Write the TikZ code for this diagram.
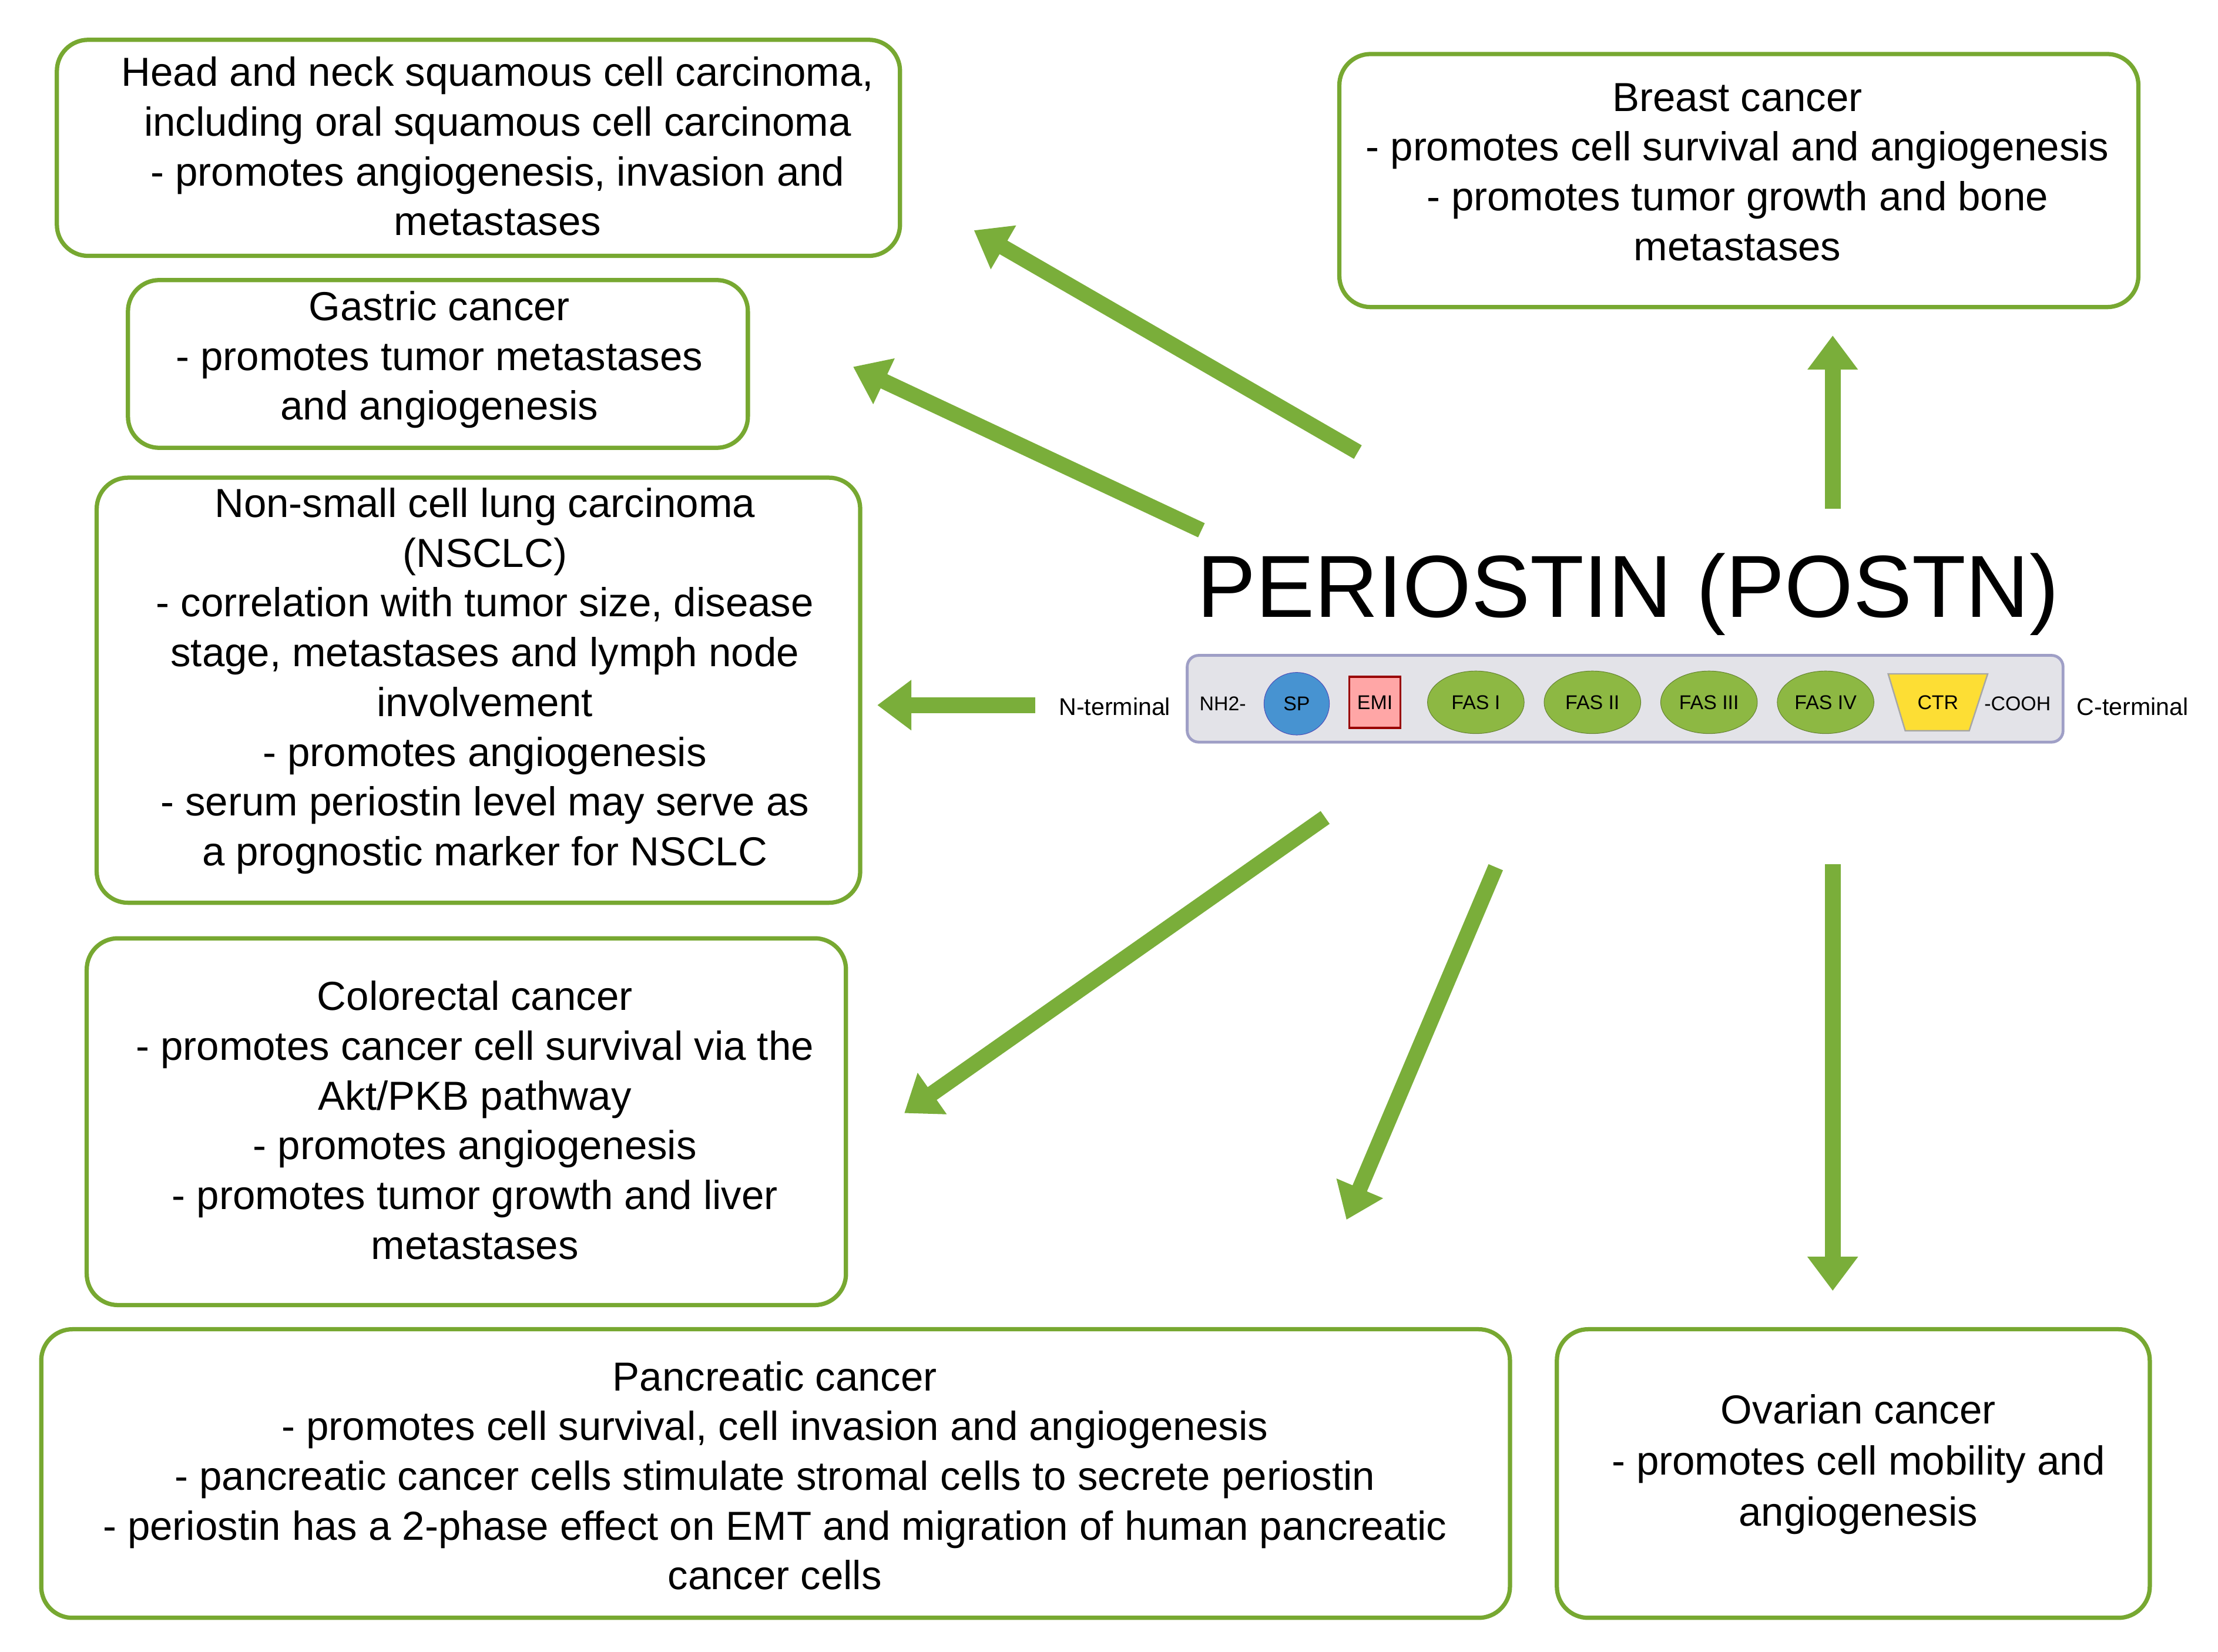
\documentclass[tikz,border=0pt]{standalone}
\usepackage{fontspec}
\setmainfont{Liberation Sans}
\usetikzlibrary{arrows.meta,shapes.geometric}
\definecolor{bx}{HTML}{77A831}
\definecolor{ar}{HTML}{7AAE3A}
\definecolor{fas}{HTML}{8DB843}
\begin{document}
\begin{tikzpicture}[x=1pt,y=-1pt,
 box/.style={draw=bx,line width=3pt,rounded corners=22pt},
 txt/.style={align=center,font=\fontsize{28.5}{35}\selectfont,inner sep=0},
 arr/.style={draw=ar,line width=11pt,-{Triangle[length=24pt,width=34pt]}},
 sm/.style={font=\fontsize{14}{16}\selectfont,inner sep=0},
 fasn/.style={ellipse,draw=fas!70!black,fill=fas,minimum width=68pt,minimum height=44pt,inner sep=0,font=\fontsize{14}{15}\selectfont}]
\useasboundingbox (0,0) rectangle (1560,1162);
\fill[white] (0,0) rectangle (1560,1162);
% boxes
\draw[box] (40,28) rectangle (633,180);
\draw[box] (942,38) rectangle (1504,216);
\draw[box] (90,197) rectangle (526,315);
\draw[box] (68,336) rectangle (605,635);
\draw[box] (61,660) rectangle (595,918);
\draw[box] (29,935) rectangle (1062,1138);
\draw[box] (1095,935) rectangle (1512,1138);
\node[txt] (hn) at (350,103) {Head and neck squamous cell carcinoma,\\including oral squamous cell carcinoma\\- promotes angiogenesis, invasion and\\metastases};
\node[txt] (br) at (1222,121) {Breast cancer\\- promotes cell survival and angiogenesis\\- promotes tumor growth and bone\\metastases};
\node[txt] (ga) at (309,253) {Gastric cancer\\- promotes tumor metastases\\and angiogenesis};
\node[txt] (ns) at (341,479) {Non-small cell lung carcinoma\\(NSCLC)\\- correlation with tumor size, disease\\stage, metastases and lymph node\\involvement\\- promotes angiogenesis\\- serum periostin level may serve as\\a prognostic marker for NSCLC};
\node[txt] (co) at (334,788) {Colorectal cancer\\- promotes cancer cell survival via the\\Akt/PKB pathway\\- promotes angiogenesis\\- promotes tumor growth and liver\\metastases};
\node[txt] (pa) at (545,1038) {Pancreatic cancer\\- promotes cell survival, cell invasion and angiogenesis\\- pancreatic cancer cells stimulate stromal cells to secrete periostin\\- periostin has a 2-phase effect on EMT and migration of human pancreatic\\cancer cells};
\node[txt,font=\fontsize{28.5}{36}\selectfont] (ov) at (1307,1030) {Ovarian cancer\\- promotes cell mobility and\\angiogenesis};
% title
\node[inner sep=0,font=\fontsize{62}{70}\selectfont] (ti) at (1145,418) {PERIOSTIN (POSTN)};
% protein bar
\draw[draw=blue!25!gray!60,fill=blue!8!gray!20,line width=2pt,rounded corners=8pt] (835,461) rectangle (1451,522);
\node[sm] (nh) at (860,495) {NH2-};
\node[ellipse,draw=blue!60!black!70,fill=blue!45!cyan!60!gray!90,minimum width=46pt,minimum height=44pt,inner sep=0,font=\fontsize{14}{15}\selectfont] (sp) at (912,495) {SP};
\node[draw=red!60!black,fill=red!35,line width=1.5pt,minimum width=36pt,minimum height=36pt,inner sep=0,font=\fontsize{14}{15}\selectfont] (emi) at (967,494) {EMI};
\node[fasn] (f1) at (1038,494) {FAS I};
\node[fasn] (f2) at (1120,494) {FAS II};
\node[fasn] (f3) at (1202,494) {FAS III};
\node[fasn] (f4) at (1284,494) {FAS IV};
\draw[fill=yellow!75!orange!80,draw=gray!70,line width=1pt] (1328,474) -- (1398,474) -- (1385,514) -- (1340,514) -- cycle;
\node[sm] (ctr) at (1363,494) {CTR};
\node[sm] (cooh) at (1419,495) {-COOH};
\node[sm,font=\fontsize{17}{18}\selectfont] (nt) at (784,497) {N-terminal};
\node[sm,font=\fontsize{17}{18}\selectfont] (ct) at (1500,497) {C-terminal};
% arrow coordinates
\coordinate (a1s) at (955,318); \coordinate (a1e) at (685,162);
\coordinate (a2s) at (845,373); \coordinate (a2e) at (600,258);
\coordinate (a3s) at (728,496); \coordinate (a3e) at (617,496);
\coordinate (a4s) at (1289,358); \coordinate (a4e) at (1289,236);
\coordinate (a5s) at (932,575); \coordinate (a5e) at (636,783);
\coordinate (a6s) at (1052,610); \coordinate (a6e) at (947,858);
\coordinate (a7s) at (1289,608); \coordinate (a7e) at (1289,908);
\foreach \i in {1,...,7} \draw[arr] (a\i s) -- (a\i e);
\end{tikzpicture}
\end{document}
